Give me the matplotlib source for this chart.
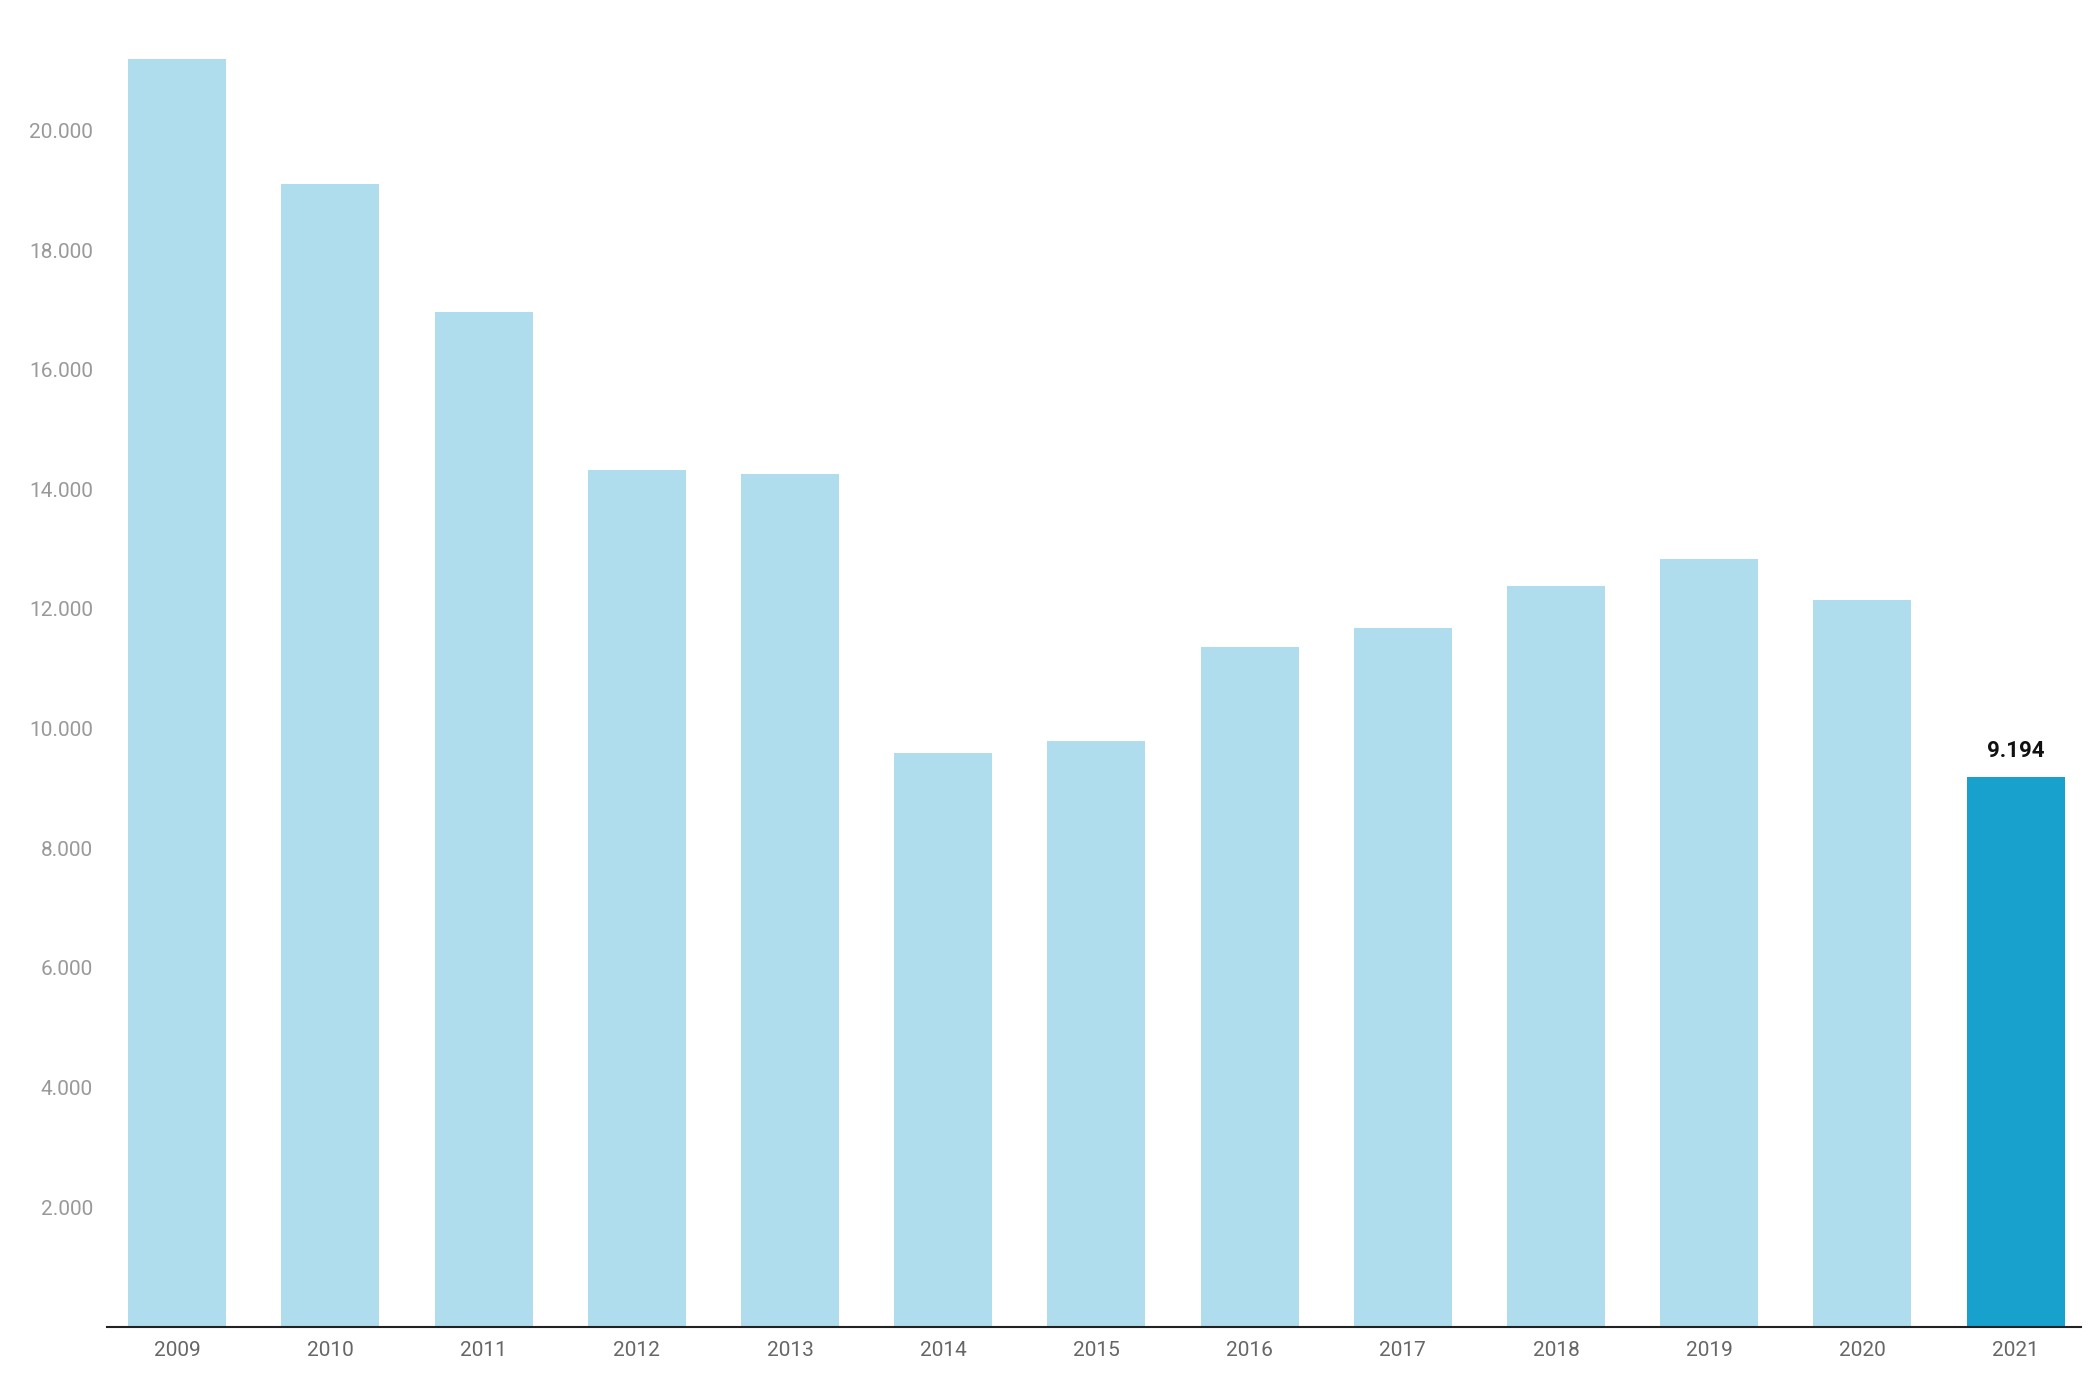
import matplotlib.pyplot as plt

years = [str(y) for y in range(2009, 2022)]
values = [21190, 19100, 16970, 14330, 14260, 9600, 9800, 11370, 11680, 12380, 12830, 12150, 9194]
light = '#afdded'
dark = '#18a1cd'

plt.rcParams['font.family'] = ['Roboto', 'DejaVu Sans']
fig = plt.figure(figsize=(20.94, 13.82), dpi=100)
ax = fig.add_axes([0.051, 0.040, 0.943, 0.921])

colors = [light] * (len(values) - 1) + [dark]
x = list(range(len(values)))
ax.bar(x, values, width=0.64, color=colors)
ax.text(x[-1], values[-1] + 250, '9.194', ha='center', va='bottom',
        fontsize=16, fontweight='bold', color='#111111')

ax.set_xlim(-0.46, 12.43)
ax.set_ylim(0, 21280)
ax.set_yticks(range(2000, 21000, 2000))
ax.set_yticklabels([f'{v // 1000}.000' for v in range(2000, 21000, 2000)])
ax.set_xticks(x)
ax.set_xticklabels(years)
ax.tick_params(axis='y', length=0, labelsize=15, labelcolor='#999999', pad=10)
ax.tick_params(axis='x', length=0, labelsize=15, labelcolor='#666666', pad=10)
for s in ['top', 'right', 'left']:
    ax.spines[s].set_visible(False)
ax.spines['bottom'].set_color('#222222')
ax.spines['bottom'].set_linewidth(1.5)

fig.savefig('out.png')
